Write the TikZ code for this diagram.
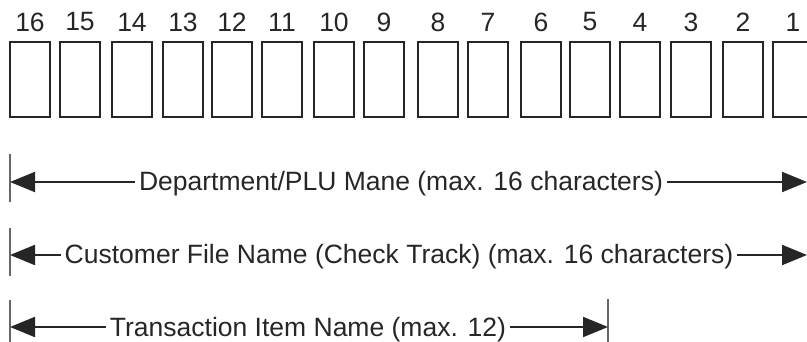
\documentclass[tikz,border=0pt]{standalone}
\usepackage{fontspec}
\setmainfont{Liberation Sans}
\usetikzlibrary{arrows.meta}
\begin{document}
\begin{tikzpicture}[x=1pt,y=-1pt,
    cell/.style={draw=black!85,line width=2.4pt,minimum width=39.6pt,minimum height=74.6pt,inner sep=0pt},
    num/.style={font=\fontsize{26.5}{30}\selectfont,text=black!85,inner sep=0pt},
    lbl/.style={font=\fontsize{26.5}{30}\selectfont,text=black!85,inner xsep=4pt,inner ysep=0pt,anchor=base},
    dim/.style={line width=2pt,draw=black!85,-{Triangle[length=25pt,width=20pt]}},
    tick/.style={line width=1.3pt,draw=black!60}]
    \useasboundingbox (0,0) rectangle (807,342);
    % character cells, numbered right to left
    \foreach \x/\n in {9/16,59/15,111/14,162/13,211/12,261/11,313/10,363/9,
                       417/8,467/7,520/6,569/5,619/4,670/3,722/2,772/1}{
        \node[cell] (c\n) at (\x+21,79.5) {};
        \node[num] (n\n) at (\x+21,22) {\n};
    }
    % limit ticks
    \coordinate (l1) at (10,182);
    \coordinate (l2) at (10,255);
    \coordinate (l3) at (10,327);
    \coordinate (r1) at (807,182);
    \coordinate (r2) at (807,255);
    \coordinate (r3) at (608,327);
    \draw[tick] (10,154) -- (10,202);
    \draw[tick] (10,228) -- (10,276);
    \draw[tick] (10,300) -- (10,350);
    \draw[tick] (608,299) -- (608,350);
    % field lengths
    \node[lbl] (dept) at (401,191) {Department/PLU Mane (max. 16 characters)};
    \draw[dim] (dept.west |- l1) -- (l1);
    \draw[dim] (dept.east |- r1) -- (r1);
    \node[lbl] (cust) at (399,264) {Customer File Name (Check Track) (max. 16 characters)};
    \draw[dim] (cust.west |- l2) -- (l2);
    \draw[dim] (cust.east |- r2) -- (r2);
    \node[lbl] (item) at (308,336) {Transaction Item Name (max. 12)};
    \draw[dim] (item.west |- l3) -- (l3);
    \draw[dim] (item.east |- r3) -- (r3);
\end{tikzpicture}
\end{document}
